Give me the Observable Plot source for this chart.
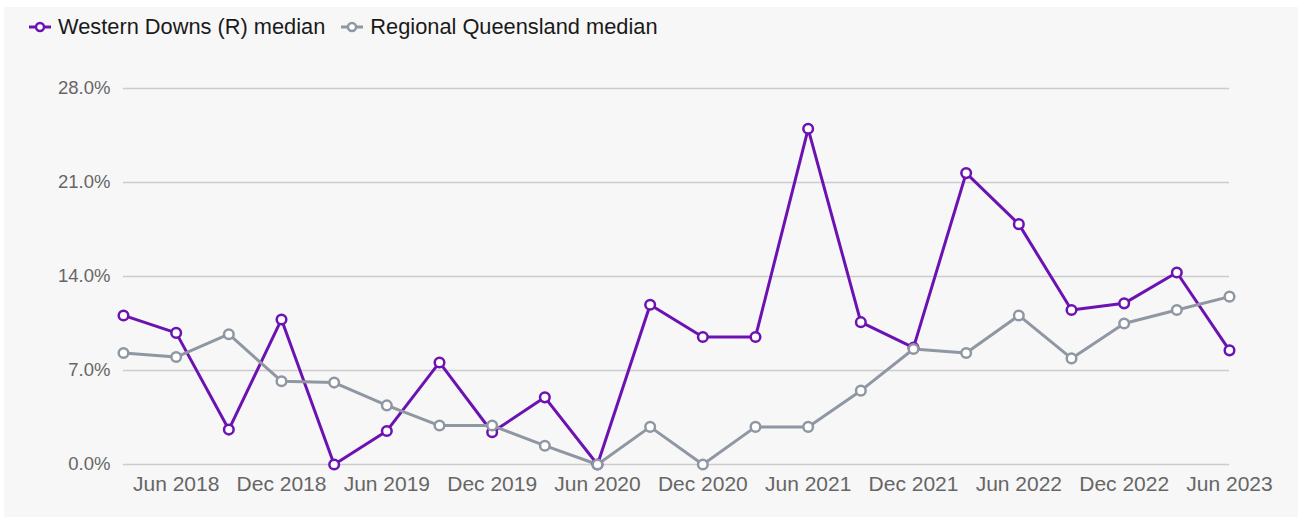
<!DOCTYPE html>
<html>
<head>
<meta charset="utf-8">
<script src="https://cdn.jsdelivr.net/npm/d3@7"></script>
<script src="https://cdn.jsdelivr.net/npm/@observablehq/plot@0.6"></script>
<style>
  html, body { margin: 0; padding: 0; background: #ffffff; }
  #frame { position: absolute; left: 4px; top: 7px; width: 1294px; height: 510px; background: #f7f7f7; }
  #legend { position: absolute; left: 29px; top: 13px; height: 28px; display: flex; align-items: center;
            font-family: "Liberation Sans", Arial, sans-serif; font-size: 21.8px; color: #1a1a1a; }
  .item { display: flex; align-items: center; margin-right: 16px; }
  .item svg { margin-right: 7px; }
  #chart { position: absolute; left: 0; top: 40px; }
</style>
</head>
<body>
<div id="frame"></div>
<div id="legend"></div>
<div id="chart"></div>
<script>
const quarters = ["Mar 2018","Jun 2018","Sep 2018","Dec 2018","Mar 2019","Jun 2019","Sep 2019","Dec 2019",
  "Mar 2020","Jun 2020","Sep 2020","Dec 2020","Mar 2021","Jun 2021","Sep 2021","Dec 2021",
  "Mar 2022","Jun 2022","Sep 2022","Dec 2022","Mar 2023","Jun 2023"];
const westernDowns = [11.1, 9.8, 2.6, 10.8, 0.0, 2.5, 7.6, 2.4, 5.0, 0.0, 11.9, 9.5, 9.5, 25.0, 10.6, 8.7,
  21.7, 17.9, 11.5, 12.0, 14.3, 8.5];
const regionalQld = [8.3, 8.0, 9.7, 6.2, 6.1, 4.4, 2.9, 2.9, 1.4, 0.0, 2.8, 0.0, 2.8, 2.8, 5.5, 8.6,
  8.3, 11.1, 7.9, 10.5, 11.5, 12.5];
const yTicks = [0, 7, 14, 21, 28];
const xTicks = ["Jun 2018","Dec 2018","Jun 2019","Dec 2019","Jun 2020","Dec 2020","Jun 2021","Dec 2021","Jun 2022","Dec 2022","Jun 2023"];
const seriesNames = ["Western Downs (R) median", "Regional Queensland median"];
const seriesColors = ["#6d12b2", "#8f97a3"];

const rows = [];
quarters.forEach((q, i) => {
  rows.push({quarter: q, value: westernDowns[i], series: seriesNames[0]});
});
quarters.forEach((q, i) => {
  rows.push({quarter: q, value: regionalQld[i], series: seriesNames[1]});
});

const fontFam = '"Liberation Sans", Arial, sans-serif';

const plot = Plot.plot({
  width: 1301,
  height: 480,
  marginTop: 48,
  marginBottom: 56,
  marginLeft: 123,
  marginRight: 72,
  style: {background: "transparent", fontFamily: fontFam, overflow: "visible"},
  x: {type: "point", domain: quarters, padding: 0, inset: 0, round: false, label: null},
  y: {domain: [0, 28], label: null},
  color: {domain: seriesNames, range: seriesColors},
  marks: [
    Plot.ruleY(yTicks, {stroke: "#cccccc", strokeWidth: 1.5}),
    Plot.axisY({ticks: yTicks, tickSize: 0, tickPadding: 13, tickFormat: d => d.toFixed(1) + "%",
      fontSize: 18.5, fill: "#666666", label: null}),
    Plot.axisX({ticks: xTicks, tickSize: 0, tickPadding: 12, fontSize: 21, fill: "#666666", label: null}),
    Plot.line(rows, {x: "quarter", y: "value", z: "series", stroke: "series", strokeWidth: 3, strokeLinejoin: "round"}),
    Plot.dot(rows, {x: "quarter", y: "value", stroke: "series", fill: "white", r: 4.8, strokeWidth: 2.5})
  ]
});
document.getElementById("chart").appendChild(plot);

const legend = document.getElementById("legend");
seriesNames.forEach((name, i) => {
  const item = document.createElement("div");
  item.className = "item";
  item.innerHTML = `<svg width="22" height="12"><line x1="0" y1="6" x2="22" y2="6" stroke="${seriesColors[i]}" stroke-width="3"/><circle cx="11" cy="6" r="4" fill="white" stroke="${seriesColors[i]}" stroke-width="2.5"/></svg><span>${name}</span>`;
  legend.appendChild(item);
});
</script>
</body>
</html>
